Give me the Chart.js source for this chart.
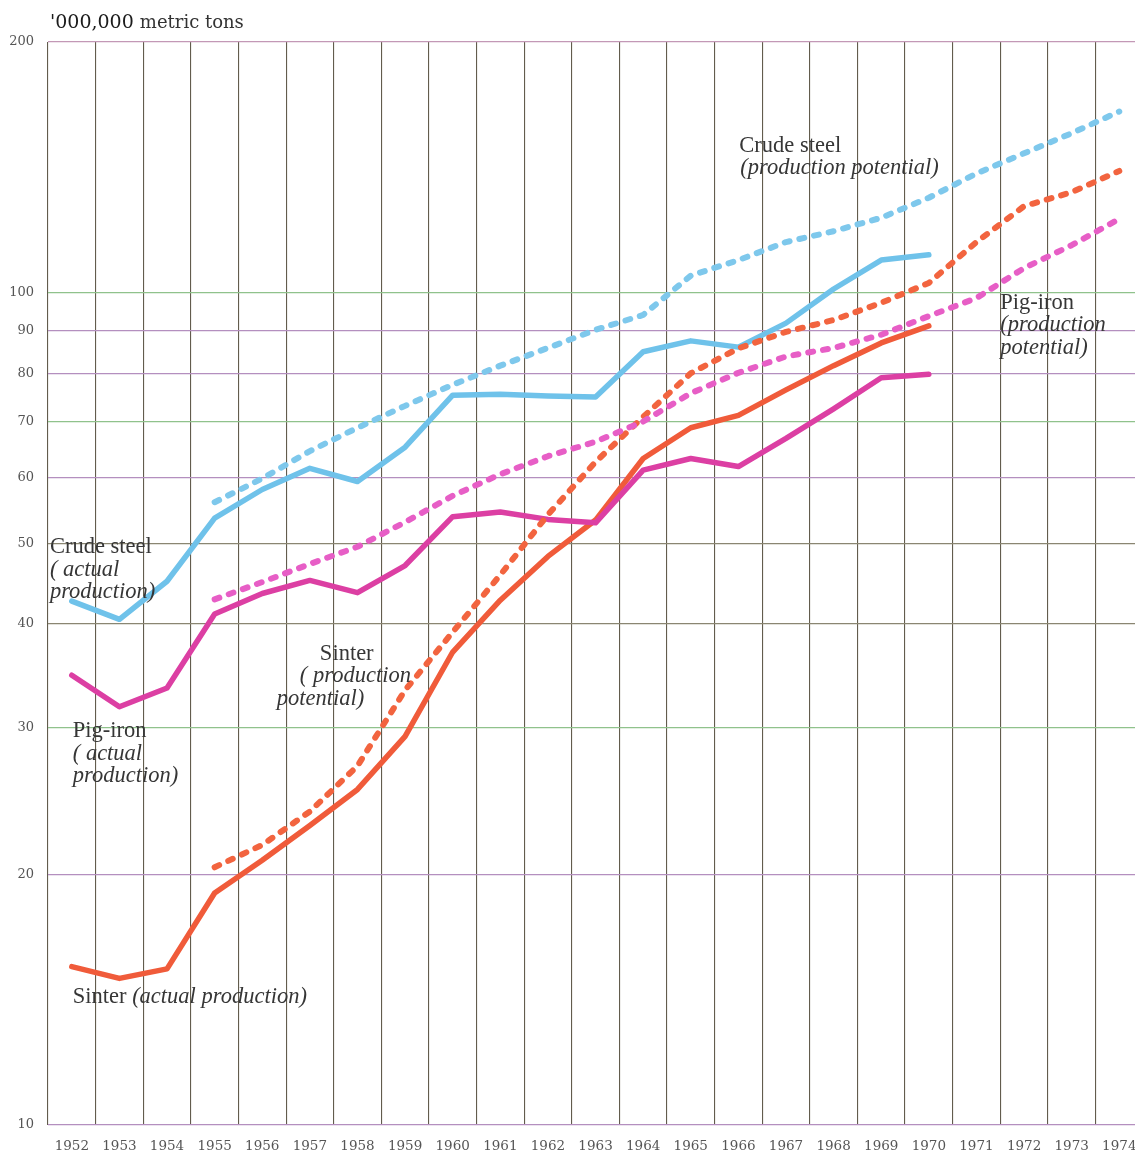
<!DOCTYPE html>
<html>
<head>
<meta charset="utf-8">
<script src="https://cdn.jsdelivr.net/npm/chart.js@4/dist/chart.umd.min.js"></script>
<style>
  html, body { margin: 0; padding: 0; background: #ffffff; overflow: hidden; }
  #wrap { width: 1135px; height: 1155px; position: relative; }
</style>
</head>
<body>
<div id="wrap"><canvas id="c" width="1135" height="1155"></canvas></div>
<script>
// Year labels along the bottom axis
const years = [1952, 1953, 1954, 1955, 1956, 1957, 1958, 1959, 1960, 1961, 1962, 1963,
               1964, 1965, 1966, 1967, 1968, 1969, 1970, 1971, 1972, 1973, 1974];

// Years covered by actual production and by production potential
const actualYears = [1952, 1953, 1954, 1955, 1956, 1957, 1958, 1959, 1960, 1961,
                     1962, 1963, 1964, 1965, 1966, 1967, 1968, 1969, 1970];
const potentialYears = [1955, 1956, 1957, 1958, 1959, 1960, 1961, 1962, 1963, 1964,
                        1965, 1966, 1967, 1968, 1969, 1970, 1971, 1972, 1973, 1974];

// Million metric tons
const steelActual = [42.6, 40.5, 45.0, 53.6, 58.0, 61.5, 59.3, 65.2, 75.3, 75.5,
                     75.1, 74.9, 84.9, 87.5, 86.0, 91.9, 101.0, 109.4, 111.0];
const steelPotential = [56.0, 59.8, 64.5, 68.8, 73.1, 77.5, 81.7, 85.8, 90.2, 94.0,
                        104.8, 109.4, 115.0, 118.5, 123.0, 130.0, 139.0, 147.0, 155.4, 165.0];
const pigActual = [34.7, 31.8, 33.5, 41.1, 43.5, 45.1, 43.6, 47.0, 53.8, 54.5,
                   53.4, 52.9, 61.2, 63.2, 61.8, 66.8, 72.5, 79.0, 79.8];
const pigPotential = [42.8, 44.9, 47.2, 49.5, 53.0, 57.0, 60.5, 63.6, 66.2, 70.0,
                      75.7, 80.1, 83.8, 85.8, 89.0, 93.7, 98.5, 107.0, 114.0, 122.6];
const sinterActual = [15.5, 15.0, 15.4, 19.0, 20.8, 22.9, 25.3, 29.3, 37.0, 42.7,
                      48.2, 53.3, 63.2, 68.8, 71.2, 76.4, 81.7, 87.0, 91.2];
const sinterPotential = [20.4, 21.7, 23.8, 27.0, 33.3, 39.1, 45.8, 54.1, 62.6, 70.9,
                         80.0, 85.7, 89.7, 92.7, 97.2, 102.7, 115.0, 127.0, 132.0, 140.0];

// Tick values on the logarithmic axis
const yTicks = [10, 20, 30, 40, 50, 60, 70, 80, 90, 100, 200];

// Horizontal rule colours (printed in alternating inks)
const PURPLE = '#b48fbf', GREEN = '#90c28c', OLIVE = '#8a8672', PINK = '#c398b6';
const hRuleColor = { 10: PURPLE, 20: PURPLE, 30: GREEN, 40: OLIVE, 50: OLIVE, 60: PURPLE,
                     70: GREEN, 80: PURPLE, 90: PURPLE, 100: GREEN, 200: PINK };
const V_RULE = 'rgba(70, 64, 46, 0.85)';

const BLUE = '#6fc2ea', BLUE_D = '#7ec8ec';
const MAGENTA = '#dc3fa3', MAGENTA_D = '#e75ec6';
const RED = '#f05b3a', RED_D = '#f2643f';

const pts = (xs, ys) => xs.map((x, i) => ({ x: x, y: ys[i] }));

function solid(label, xs, ys, color) {
  return { label, data: pts(xs, ys), borderColor: color, borderWidth: 5.5,
           borderJoinStyle: 'round', borderCapStyle: 'round',
           pointRadius: 0, tension: 0, fill: false };
}
function dashed(label, xs, ys, color) {
  return { label, data: pts(xs, ys), borderColor: color, borderWidth: 6,
           borderDash: [5, 10], borderCapStyle: 'round', borderJoinStyle: 'round',
           pointRadius: 0, tension: 0, fill: false };
}

const SERIF = '"Liberation Serif", "DejaVu Serif", serif';
const TEXT = '#363636';

// Series captions: anchor in data units, each line shifted by dx pixels
const captions = [
  { year: 1951.54, value: 49.4, lines: [
      { dx: 0, parts: [['Crude steel', false]] },
      { dx: 0, parts: [['( actual', true]] },
      { dx: 0, parts: [['production)', true]] } ] },
  { year: 1952.02, value: 29.7, lines: [
      { dx: 0, parts: [['Pig-iron', false]] },
      { dx: 0, parts: [['( actual', true]] },
      { dx: 0, parts: [['production)', true]] } ] },
  { year: 1952.02, value: 14.25, lines: [
      { dx: 0, parts: [['Sinter ', false], ['(actual production)', true]] } ] },
  { year: 1957.21, value: 36.8, lines: [
      { dx: 0, parts: [['Sinter', false]] },
      { dx: -20, parts: [['( production', true]] },
      { dx: -43, parts: [['potential)', true]] } ] },
  { year: 1966.02, value: 150, lines: [
      { dx: 0, parts: [['Crude steel', false]] },
      { dx: 1, parts: [['(production potential)', true]] } ] },
  { year: 1971.5, value: 97.2, lines: [
      { dx: 0, parts: [['Pig-iron', false]] },
      { dx: 0, parts: [['(production', true]] },
      { dx: 0, parts: [['potential)', true]] } ] }
];

const captionPlugin = {
  id: 'captions',
  afterDatasetsDraw(chart) {
    const ctx = chart.ctx, xs = chart.scales.x, ys = chart.scales.y;
    ctx.save();
    ctx.fillStyle = TEXT;
    ctx.textBaseline = 'middle';
    ctx.textAlign = 'left';
    captions.forEach(c => {
      const x0 = xs.getPixelForValue(c.year);
      const y0 = ys.getPixelForValue(c.value);
      c.lines.forEach((ln, i) => {
        let x = x0 + ln.dx;
        const y = y0 + i * 22.5;
        ln.parts.forEach(([txt, italic]) => {
          ctx.font = (italic ? 'italic ' : '') + '22.5px ' + SERIF;
          ctx.fillText(txt, x, y);
          x += ctx.measureText(txt).width;
        });
      });
    });
    // unit caption above the plot
    const left = chart.chartArea.left + 2, top = chart.chartArea.top - 19;
    ctx.font = '19px "DejaVu Serif", serif';
    ctx.fillStyle = '#1c1c1c';
    ctx.fillText("'000,000", left, top);
    const w = ctx.measureText("'000,000 ").width;
    ctx.fillStyle = '#333';
    ctx.font = '18px "DejaVu Serif", serif';
    ctx.fillText('metric tons', left + w, top);
    ctx.restore();
  }
};

new Chart(document.getElementById('c'), {
  type: 'line',
  data: {
    datasets: [
      dashed('Crude steel (production potential)', potentialYears, steelPotential, BLUE_D),
      dashed('Pig-iron (production potential)', potentialYears, pigPotential, MAGENTA_D),
      dashed('Sinter (production potential)', potentialYears, sinterPotential, RED_D),
      solid('Crude steel (actual production)', actualYears, steelActual, BLUE),
      solid('Pig-iron (actual production)', actualYears, pigActual, MAGENTA),
      solid('Sinter (actual production)', actualYears, sinterActual, RED)
    ]
  },
  options: {
    responsive: false,
    devicePixelRatio: 1,
    animation: false,
    layout: { padding: { top: 42, right: 0, left: 0, bottom: 0 } },
    plugins: { legend: { display: false }, tooltip: { enabled: false } },
    scales: {
      x: {
        type: 'linear',
        min: years[0] - 0.5,
        max: years[years.length - 1] + 0.33,
        afterBuildTicks: s => {
          s.ticks = years.flatMap(y => [{ value: y - 0.5 }, { value: y }]);
        },
        afterFit: s => { s.height = 30; s.paddingRight = 0; s.paddingLeft = 0; },
        ticks: {
          autoSkip: false, maxRotation: 0, minRotation: 0, padding: 13,
          color: '#555', font: { family: '"DejaVu Serif", serif', size: 13.5 },
          callback: v => Number.isInteger(v) ? String(v) : ''
        },
        grid: {
          drawTicks: false, lineWidth: 1.1,
          color: c => (c.tick && Number.isInteger(c.tick.value)) ? 'rgba(0,0,0,0)' : V_RULE
        },
        border: { display: false }
      },
      y: {
        type: 'logarithmic',
        min: 10, max: 200,
        afterBuildTicks: s => { s.ticks = yTicks.map(v => ({ value: v })); },
        afterFit: s => { s.width = 48; },
        ticks: {
          autoSkip: false, padding: 14, color: '#555',
          font: { family: '"DejaVu Serif", serif', size: 13 },
          callback: v => String(v)
        },
        grid: {
          drawTicks: false, lineWidth: 1.2,
          color: c => (c.tick && hRuleColor[c.tick.value]) || OLIVE
        },
        border: { display: false }
      }
    }
  },
  plugins: [captionPlugin]
});
</script>
</body>
</html>
